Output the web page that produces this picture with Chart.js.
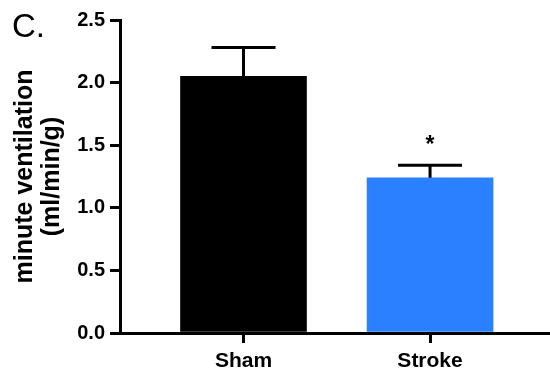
<!DOCTYPE html>
<html>
<head>
<meta charset="utf-8">
<script src="https://cdn.jsdelivr.net/npm/chart.js@4/dist/chart.umd.min.js"></script>
<style>
    body { margin: 0; background: #fff; }
</style>
</head>
<body>
<canvas id="chart" width="550" height="377"></canvas>
<script>
// values
let groups = ['Sham', 'Stroke']
let means = [2.05, 1.24]
let sems = [0.23, 0.10]
let marks = ['', '*']
let bar_colors = ['#000000', '#2a80ff']
let y_ticks = [0, 0.5, 1.0, 1.5, 2.0, 2.5]
let y_title = ['minute ventilation', '(ml/min/g)']
let panel_label = 'C.'

const FONT = "'Liberation Sans', Arial, Helvetica, sans-serif"

// upper error bars, the significance star and the panel letter
const extras = {
    id: 'extras',
    afterDatasetsDraw(chart) {
        let ctx = chart.ctx
        let y = chart.scales.y
        let bars = chart.getDatasetMeta(0).data
        ctx.save()
        ctx.strokeStyle = '#000'
        ctx.lineWidth = 3
        for (let i = 0; i < bars.length; i++) {
            let bx = bars[i].x
            let top = y.getPixelForValue(means[i] + sems[i])
            ctx.beginPath()
            ctx.moveTo(bx, bars[i].y)
            ctx.lineTo(bx, top)
            ctx.moveTo(bx - 32, top)
            ctx.lineTo(bx + 32, top)
            ctx.stroke()
            if (marks[i]) {
                ctx.fillStyle = '#000'
                ctx.font = 'bold 23px ' + FONT
                ctx.textAlign = 'center'
                ctx.textBaseline = 'alphabetic'
                ctx.fillText(marks[i], bx, top - 13)
            }
        }
        ctx.fillStyle = '#000'
        ctx.font = '33px ' + FONT
        ctx.textAlign = 'left'
        ctx.textBaseline = 'alphabetic'
        ctx.fillText(panel_label, 12, 37)
        ctx.restore()
    }
}

let ctx = document.getElementById('chart').getContext('2d')
let chart = new Chart(ctx, {
    type: 'bar',
    data: {
        datasets: [{
            data: means.map((m, i) => ({ x: i, y: m })),
            backgroundColor: bar_colors,
            borderWidth: 0,
            barThickness: 126
        }]
    },
    options: {
        responsive: false,
        animation: false,
        layout: { padding: { top: 20, right: 0, left: 0, bottom: 0 } },
        plugins: {
            legend: { display: false },
            tooltip: { enabled: false }
        },
        scales: {
            x: {
                type: 'linear',
                offset: false,
                min: -0.662,
                max: 1.643,
                afterBuildTicks: scale => {
                    scale.ticks = groups.map((g, i) => ({ value: i }))
                },
                afterFit: scale => { scale.height = 44 },
                ticks: {
                    callback: v => groups[v],
                    color: '#000',
                    padding: 6,
                    maxRotation: 0,
                    autoSkip: false,
                    font: { family: FONT, size: 21, weight: 'bold' }
                },
                grid: {
                    offset: false,
                    drawOnChartArea: false,
                    drawTicks: true,
                    tickLength: 10,
                    color: '#000',
                    lineWidth: 3
                },
                border: { display: true, color: '#000', width: 3 }
            },
            y: {
                min: 0,
                max: 2.5,
                afterBuildTicks: scale => {
                    scale.ticks = y_ticks.map(v => ({ value: v }))
                },
                afterFit: scale => { scale.width = 120 },
                ticks: {
                    callback: v => v.toFixed(1),
                    color: '#000',
                    padding: 5,
                    font: { family: FONT, size: 20, weight: 'bold' }
                },
                grid: {
                    drawOnChartArea: false,
                    drawTicks: true,
                    tickLength: 10,
                    color: '#000',
                    lineWidth: 3
                },
                border: { display: true, color: '#000', width: 3 },
                title: {
                    display: true,
                    text: y_title,
                    color: '#000',
                    padding: { top: 12, bottom: 0 },
                    font: { family: FONT, size: 25, weight: 'bold', lineHeight: 1.08 }
                }
            }
        }
    },
    plugins: [extras]
})
</script>
</body>
</html>
